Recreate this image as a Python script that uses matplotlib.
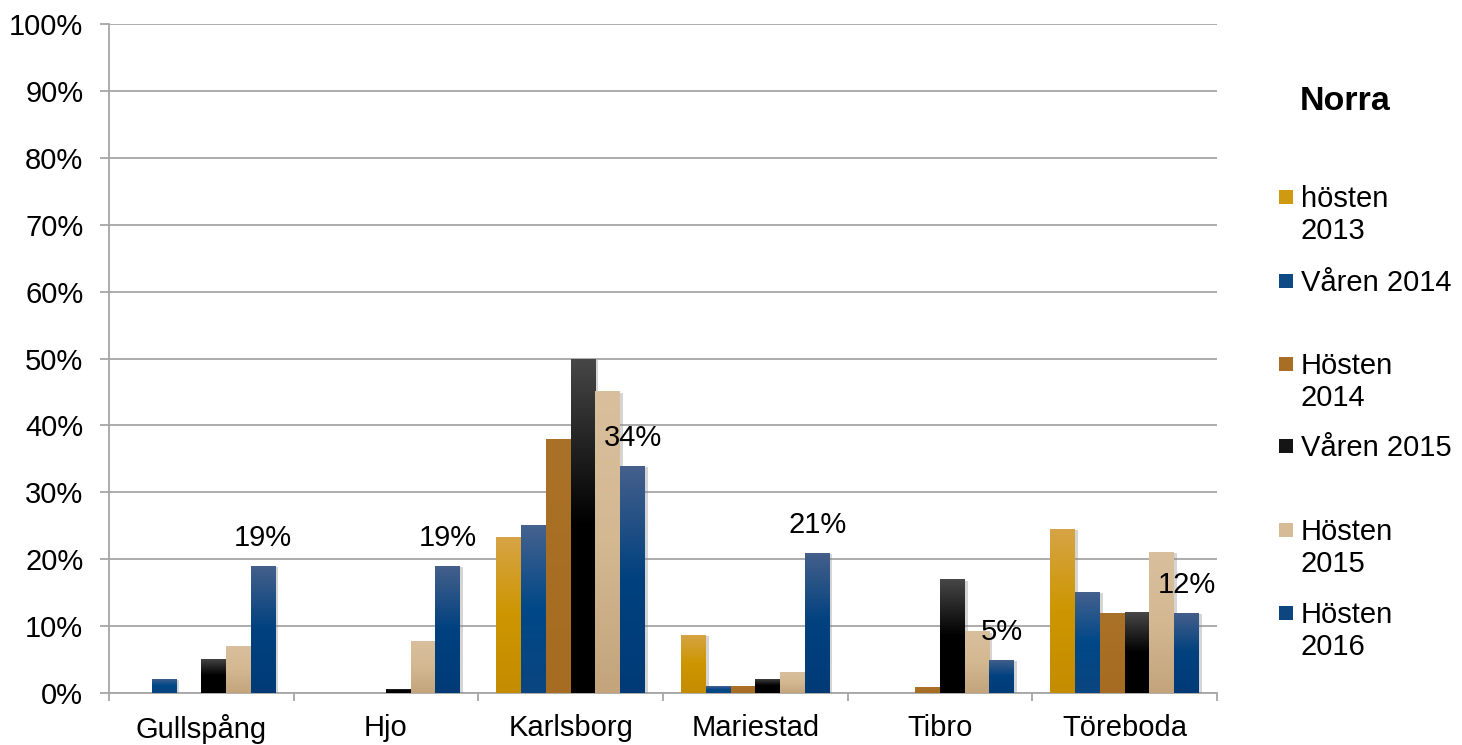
import matplotlib
matplotlib.use("Agg")
import matplotlib.pyplot as plt
import numpy as np
from matplotlib.colors import LinearSegmentedColormap
from matplotlib.ticker import FixedLocator, PercentFormatter
import matplotlib.patheffects as pe

plt.rcParams['font.family'] = ['Liberation Sans', 'DejaVu Sans']

# data (percent)
kommuner = ['Gullspång', 'Hjo', 'Karlsborg', 'Mariestad', 'Tibro', 'Töreboda']
series_names = ['hösten\n2013', 'Våren 2014', 'Hösten\n2014', 'Våren 2015',
                'Hösten\n2015', 'Hösten\n2016']
hosten_2013 = [0, 0, 23.3, 8.7, 0, 24.5]
varen_2014 = [2.1, 0, 25.1, 1.0, 0, 15.1]
hosten_2014 = [0, 0, 38.0, 1.0, 0.9, 12.0]
varen_2015 = [5.1, 0.6, 50.0, 2.1, 17.0, 12.1]
hosten_2015 = [7.1, 7.8, 45.1, 3.1, 9.2, 21.1]
hosten_2016 = [19, 19, 34, 21, 5, 12]
labels_2016 = ['19%', '19%', '34%', '21%', '5%', '12%']

all_series = [hosten_2013, varen_2014, hosten_2014, varen_2015, hosten_2015, hosten_2016]

# gradient stops: (bottom, middle, top)
gradients = [
    ('#c48c00', '#cd9600', '#d6a446'),
    ('#0a4580', '#004888', '#46628e'),
    ('#a66d22', '#a86f24', '#aa7228'),
    ('#000000', '#000000', '#474747'),
    ('#c3a47c', '#d3b892', '#d9bf9d'),
    ('#003b77', '#00417f', '#46608b'),
]
legend_colors = ['#cf9a10', '#0e4a86', '#a86f24', '#151515', '#d6bb96', '#0d4580']

fig = plt.figure(figsize=(14.62, 7.45), dpi=100)
ax = fig.add_axes([109 / 1462, 1 - 693 / 745, (1217 - 109) / 1462, (693 - 24) / 745])

n = len(all_series)
width = 0.134
x = np.arange(len(kommuner))
grad = np.linspace(0, 1, 256).reshape(-1, 1)

for i, vals in enumerate(all_series):
    pos = x + (i - (n - 1) / 2) * width
    bars = ax.bar(pos, vals, width, color=legend_colors[i], linewidth=0, zorder=3,
                  path_effects=[pe.SimplePatchShadow(offset=(2, -1), shadow_rgbFace='#888888', alpha=0.35),
                                pe.Normal()])
    b, m, t = gradients[i]
    cmap = LinearSegmentedColormap.from_list('g%d' % i, [(0, b), (0.5, m), (1, t)])
    for bar, v in zip(bars, vals):
        if v <= 0:
            continue
        x0 = bar.get_x()
        im = ax.imshow(grad, cmap=cmap, aspect='auto', origin='lower',
                       extent=[x0, x0 + width, 0, v], zorder=3.5)
        im.set_clip_path(bar)

for xi, v, lab in zip(x + (n - 1) / 2 * width, hosten_2016, labels_2016):
    ax.annotate(lab, (xi, v), xytext=(0, 20), textcoords='offset points',
                ha='center', va='center', fontsize=21, zorder=5)

ax.set_xlim(-0.5, len(kommuner) - 0.5)
ax.set_ylim(0, 100)
ax.yaxis.set_major_locator(FixedLocator(np.arange(0, 101, 10)))
ax.yaxis.set_major_formatter(PercentFormatter(decimals=0))
ax.grid(axis='y', color='#a6a6a6', linewidth=1.3, zorder=0)
ax.set_axisbelow(True)

ax.set_xticks(x)
ax.set_xticklabels(kommuner)
ax.set_xticks(np.arange(-0.5, len(kommuner)), minor=True)
ax.tick_params(axis='x', which='major', length=0, pad=15, labelsize=21)
ax.tick_params(axis='x', which='minor', length=6, width=1.3, color='#a6a6a6', direction='out')
ax.tick_params(axis='y', length=6.5, width=1.3, color='#a6a6a6', pad=12, labelsize=21)

for s in ['top', 'right']:
    ax.spines[s].set_visible(False)
for s in ['left', 'bottom']:
    ax.spines[s].set_color('#a6a6a6')
    ax.spines[s].set_linewidth(1.3)

# legend
fig.text(1300 / 1462, 1 - 101 / 745, 'Norra', fontsize=24.5, fontweight='bold',
         ha='left', va='center')
legend_base = [207, 291, 374, 456, 540, 623]
for name, col, yy in zip(series_names, legend_colors, legend_base):
    fig.patches.append(plt.Rectangle((1279 / 1462, 1 - (yy - 3) / 745), 14 / 1462, 14 / 745,
                                     transform=fig.transFigure, facecolor=col, edgecolor='none'))
    for k, line in enumerate(name.split('\n')):
        fig.text(1301 / 1462, 1 - (yy + 32 * k) / 745, line, fontsize=21,
                 ha='left', va='baseline')

fig.savefig('out.png', dpi=100)
